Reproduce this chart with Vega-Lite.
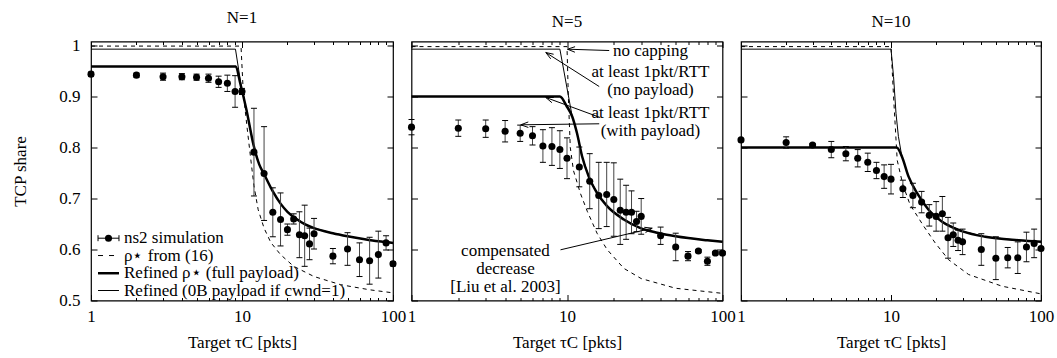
{
  "$schema": "https://vega.github.io/schema/vega-lite/v6.json",
  "padding": {"left": 10, "top": 7.5, "right": 10, "bottom": 5},
  "bounds": "flush",
  "spacing": 18.5,
  "config": {
    "font": "'Liberation Serif', 'Times New Roman', 'DejaVu Serif', serif",
    "view": {"stroke": "black", "strokeWidth": 1.2},
    "axis": {"domain": false, "grid": false, "labelFont": "'Liberation Serif', 'Times New Roman', 'DejaVu Serif', serif", "labelFontSize": 17, "labelColor": "black", "titleFont": "'Liberation Serif', 'Times New Roman', 'DejaVu Serif', serif", "titleFontSize": 17, "titleFontWeight": "normal", "titleColor": "black", "tickColor": "black", "tickWidth": 1},
    "title": {"font": "'Liberation Serif', 'Times New Roman', 'DejaVu Serif', serif", "fontSize": 17, "fontWeight": "normal", "color": "black", "offset": 10, "baseline": "bottom"},
    "text": {"font": "'Liberation Serif', 'Times New Roman', 'DejaVu Serif', serif", "fontSize": 17, "color": "black"}
  },
  "datasets": {
    "sim": [
      {"N":1,"x":1,"y":0.944,"lo":0.940,"hi":0.948},{"N":1,"x":2,"y":0.942,"lo":0.938,"hi":0.946},{"N":1,"x":3,"y":0.939,"lo":0.932,"hi":0.946},{"N":1,"x":4,"y":0.939,"lo":0.933,"hi":0.945},{"N":1,"x":5,"y":0.938,"lo":0.932,"hi":0.944},{"N":1,"x":6,"y":0.936,"lo":0.928,"hi":0.944},{"N":1,"x":7,"y":0.929,"lo":0.918,"hi":0.940},{"N":1,"x":8,"y":0.926,"lo":0.910,"hi":0.942},{"N":1,"x":9,"y":0.910,"lo":0.879,"hi":0.941},{"N":1,"x":10,"y":0.910,"lo":0.904,"hi":0.916},{"N":1,"x":12,"y":0.791,"lo":0.705,"hi":0.877},{"N":1,"x":14,"y":0.749,"lo":0.657,"hi":0.841},{"N":1,"x":16,"y":0.673,"lo":0.625,"hi":0.721},{"N":1,"x":18,"y":0.659,"lo":0.607,"hi":0.711},{"N":1,"x":20,"y":0.639,"lo":0.628,"hi":0.650},{"N":1,"x":22,"y":0.660,"lo":0.650,"hi":0.670},{"N":1,"x":24,"y":0.629,"lo":0.584,"hi":0.674},{"N":1,"x":26,"y":0.627,"lo":0.567,"hi":0.687},{"N":1,"x":28,"y":0.611,"lo":0.580,"hi":0.642},{"N":1,"x":30,"y":0.631,"lo":0.601,"hi":0.661},{"N":1,"x":40,"y":0.587,"lo":0.572,"hi":0.602},{"N":1,"x":50,"y":0.601,"lo":0.569,"hi":0.633},{"N":1,"x":60,"y":0.580,"lo":0.547,"hi":0.613},{"N":1,"x":70,"y":0.578,"lo":0.532,"hi":0.624},{"N":1,"x":80,"y":0.590,"lo":0.544,"hi":0.636},{"N":1,"x":90,"y":0.613,"lo":0.599,"hi":0.627},{"N":1,"x":100,"y":0.572,"lo":0.568,"hi":0.576},
      {"N":5,"x":1,"y":0.840,"lo":0.825,"hi":0.855},{"N":5,"x":2,"y":0.838,"lo":0.822,"hi":0.854},{"N":5,"x":3,"y":0.837,"lo":0.820,"hi":0.854},{"N":5,"x":4,"y":0.832,"lo":0.811,"hi":0.853},{"N":5,"x":5,"y":0.828,"lo":0.812,"hi":0.844},{"N":5,"x":6,"y":0.823,"lo":0.805,"hi":0.841},{"N":5,"x":7,"y":0.803,"lo":0.771,"hi":0.835},{"N":5,"x":8,"y":0.802,"lo":0.765,"hi":0.839},{"N":5,"x":9,"y":0.796,"lo":0.759,"hi":0.833},{"N":5,"x":10,"y":0.779,"lo":0.739,"hi":0.819},{"N":5,"x":12,"y":0.762,"lo":0.723,"hi":0.801},{"N":5,"x":14,"y":0.734,"lo":0.680,"hi":0.788},{"N":5,"x":16,"y":0.706,"lo":0.641,"hi":0.771},{"N":5,"x":18,"y":0.708,"lo":0.645,"hi":0.771},{"N":5,"x":20,"y":0.698,"lo":0.626,"hi":0.770},{"N":5,"x":22,"y":0.677,"lo":0.610,"hi":0.738},{"N":5,"x":24,"y":0.673,"lo":0.620,"hi":0.726},{"N":5,"x":26,"y":0.673,"lo":0.631,"hi":0.715},{"N":5,"x":28,"y":0.655,"lo":0.635,"hi":0.675},{"N":5,"x":30,"y":0.665,"lo":0.630,"hi":0.700},{"N":5,"x":40,"y":0.627,"lo":0.610,"hi":0.644},{"N":5,"x":50,"y":0.605,"lo":0.578,"hi":0.632},{"N":5,"x":60,"y":0.587,"lo":0.578,"hi":0.596},{"N":5,"x":70,"y":0.597,"lo":0.594,"hi":0.600},{"N":5,"x":80,"y":0.577,"lo":0.569,"hi":0.585},{"N":5,"x":90,"y":0.593,"lo":0.590,"hi":0.596},{"N":5,"x":100,"y":0.593,"lo":0.590,"hi":0.596},
      {"N":10,"x":1,"y":0.815,"lo":0.812,"hi":0.818},{"N":10,"x":2,"y":0.810,"lo":0.799,"hi":0.821},{"N":10,"x":3,"y":0.805,"lo":0.802,"hi":0.808},{"N":10,"x":4,"y":0.796,"lo":0.780,"hi":0.812},{"N":10,"x":5,"y":0.788,"lo":0.774,"hi":0.802},{"N":10,"x":6,"y":0.779,"lo":0.762,"hi":0.796},{"N":10,"x":7,"y":0.771,"lo":0.753,"hi":0.789},{"N":10,"x":8,"y":0.755,"lo":0.739,"hi":0.771},{"N":10,"x":9,"y":0.743,"lo":0.720,"hi":0.766},{"N":10,"x":10,"y":0.738,"lo":0.709,"hi":0.767},{"N":10,"x":12,"y":0.719,"lo":0.702,"hi":0.736},{"N":10,"x":14,"y":0.706,"lo":0.682,"hi":0.730},{"N":10,"x":16,"y":0.693,"lo":0.672,"hi":0.714},{"N":10,"x":18,"y":0.667,"lo":0.646,"hi":0.688},{"N":10,"x":20,"y":0.665,"lo":0.636,"hi":0.694},{"N":10,"x":22,"y":0.670,"lo":0.636,"hi":0.704},{"N":10,"x":24,"y":0.623,"lo":0.583,"hi":0.663},{"N":10,"x":26,"y":0.629,"lo":0.606,"hi":0.652},{"N":10,"x":28,"y":0.618,"lo":0.598,"hi":0.638},{"N":10,"x":30,"y":0.615,"lo":0.590,"hi":0.640},{"N":10,"x":40,"y":0.600,"lo":0.569,"hi":0.631},{"N":10,"x":50,"y":0.583,"lo":0.541,"hi":0.625},{"N":10,"x":60,"y":0.584,"lo":0.564,"hi":0.604},{"N":10,"x":70,"y":0.584,"lo":0.553,"hi":0.615},{"N":10,"x":80,"y":0.605,"lo":0.576,"hi":0.634},{"N":10,"x":90,"y":0.612,"lo":0.584,"hi":0.640},{"N":10,"x":100,"y":0.602,"lo":0.599,"hi":0.605}
    ],
    "curves": [
      {"N":1,"s":"rho","x":1,"y":0.999},{"N":1,"s":"rho","x":9.85,"y":0.999},{"N":1,"s":"rho","x":10.2,"y":0.907},{"N":1,"s":"rho","x":10.8,"y":0.84},{"N":1,"s":"rho","x":11.4,"y":0.78},{"N":1,"s":"rho","x":12,"y":0.725},{"N":1,"s":"rho","x":12.8,"y":0.678},{"N":1,"s":"rho","x":14,"y":0.642},{"N":1,"s":"rho","x":15.5,"y":0.614},{"N":1,"s":"rho","x":18,"y":0.59},{"N":1,"s":"rho","x":22,"y":0.567},{"N":1,"s":"rho","x":30,"y":0.547},{"N":1,"s":"rho","x":45,"y":0.531},{"N":1,"s":"rho","x":70,"y":0.521},{"N":1,"s":"rho","x":100,"y":0.515},
      {"N":1,"s":"full","x":1,"y":0.959},{"N":1,"s":"full","x":9.1,"y":0.959},{"N":1,"s":"full","x":9.7,"y":0.928},{"N":1,"s":"full","x":10.7,"y":0.874},{"N":1,"s":"full","x":11.9,"y":0.806},{"N":1,"s":"full","x":13,"y":0.767},{"N":1,"s":"full","x":14,"y":0.748},{"N":1,"s":"full","x":16,"y":0.714},{"N":1,"s":"full","x":18,"y":0.69},{"N":1,"s":"full","x":20,"y":0.674},{"N":1,"s":"full","x":22.7,"y":0.661},{"N":1,"s":"full","x":26,"y":0.65},{"N":1,"s":"full","x":30,"y":0.642},{"N":1,"s":"full","x":40,"y":0.632},{"N":1,"s":"full","x":50,"y":0.626},{"N":1,"s":"full","x":65,"y":0.62},{"N":1,"s":"full","x":80,"y":0.616},{"N":1,"s":"full","x":100,"y":0.613},
      {"N":1,"s":"zero","x":1,"y":0.993},{"N":1,"s":"zero","x":9.05,"y":0.993},{"N":1,"s":"zero","x":9.95,"y":0.915},{"N":1,"s":"zero","x":10.7,"y":0.874},{"N":1,"s":"zero","x":11.9,"y":0.806},{"N":1,"s":"zero","x":13,"y":0.767},{"N":1,"s":"zero","x":14,"y":0.748},{"N":1,"s":"zero","x":16,"y":0.714},{"N":1,"s":"zero","x":18,"y":0.69},{"N":1,"s":"zero","x":20,"y":0.674},{"N":1,"s":"zero","x":22.7,"y":0.661},{"N":1,"s":"zero","x":26,"y":0.65},{"N":1,"s":"zero","x":30,"y":0.642},{"N":1,"s":"zero","x":40,"y":0.632},{"N":1,"s":"zero","x":50,"y":0.626},{"N":1,"s":"zero","x":65,"y":0.62},{"N":1,"s":"zero","x":80,"y":0.616},{"N":1,"s":"zero","x":100,"y":0.613},
      {"N":5,"s":"rho","x":1,"y":0.998},{"N":5,"s":"rho","x":10,"y":0.998},{"N":5,"s":"rho","x":10.2,"y":0.9},{"N":5,"s":"rho","x":10.5,"y":0.80},{"N":5,"s":"rho","x":11,"y":0.755},{"N":5,"s":"rho","x":12.2,"y":0.71},{"N":5,"s":"rho","x":13.5,"y":0.675},{"N":5,"s":"rho","x":15.6,"y":0.632},{"N":5,"s":"rho","x":18.1,"y":0.600},{"N":5,"s":"rho","x":23.2,"y":0.563},{"N":5,"s":"rho","x":30,"y":0.543},{"N":5,"s":"rho","x":50,"y":0.524},{"N":5,"s":"rho","x":100,"y":0.514},
      {"N":5,"s":"full","x":1,"y":0.900},{"N":5,"s":"full","x":9,"y":0.900},{"N":5,"s":"full","x":10,"y":0.880},{"N":5,"s":"full","x":10.8,"y":0.861},{"N":5,"s":"full","x":11.6,"y":0.828},{"N":5,"s":"full","x":12.5,"y":0.783},{"N":5,"s":"full","x":13.8,"y":0.743},{"N":5,"s":"full","x":15.6,"y":0.711},{"N":5,"s":"full","x":18.1,"y":0.685},{"N":5,"s":"full","x":23.2,"y":0.659},{"N":5,"s":"full","x":29.7,"y":0.642},{"N":5,"s":"full","x":38,"y":0.633},{"N":5,"s":"full","x":50,"y":0.626},{"N":5,"s":"full","x":80,"y":0.618},{"N":5,"s":"full","x":100,"y":0.615},
      {"N":5,"s":"zero","x":1,"y":0.993},{"N":5,"s":"zero","x":9,"y":0.993},{"N":5,"s":"zero","x":10.8,"y":0.861},{"N":5,"s":"zero","x":11.6,"y":0.828},{"N":5,"s":"zero","x":12.5,"y":0.783},{"N":5,"s":"zero","x":13.8,"y":0.743},{"N":5,"s":"zero","x":15.6,"y":0.711},{"N":5,"s":"zero","x":18.1,"y":0.685},{"N":5,"s":"zero","x":23.2,"y":0.659},{"N":5,"s":"zero","x":29.7,"y":0.642},{"N":5,"s":"zero","x":38,"y":0.633},{"N":5,"s":"zero","x":50,"y":0.626},{"N":5,"s":"zero","x":80,"y":0.618},{"N":5,"s":"zero","x":100,"y":0.615},
      {"N":10,"s":"rho","x":1,"y":0.998},{"N":10,"s":"rho","x":10,"y":0.998},{"N":10,"s":"rho","x":10.4,"y":0.9},{"N":10,"s":"rho","x":11,"y":0.775},{"N":10,"s":"rho","x":12,"y":0.727},{"N":10,"s":"rho","x":13.4,"y":0.688},{"N":10,"s":"rho","x":16.5,"y":0.646},{"N":10,"s":"rho","x":19.7,"y":0.613},{"N":10,"s":"rho","x":24.2,"y":0.58},{"N":10,"s":"rho","x":32.9,"y":0.551},{"N":10,"s":"rho","x":55,"y":0.528},{"N":10,"s":"rho","x":100,"y":0.513},
      {"N":10,"s":"full","x":1,"y":0.800},{"N":10,"s":"full","x":10.9,"y":0.800},{"N":10,"s":"full","x":11.8,"y":0.783},{"N":10,"s":"full","x":13.1,"y":0.743},{"N":10,"s":"full","x":14.9,"y":0.711},{"N":10,"s":"full","x":17.8,"y":0.678},{"N":10,"s":"full","x":21.8,"y":0.655},{"N":10,"s":"full","x":29.7,"y":0.636},{"N":10,"s":"full","x":42.5,"y":0.625},{"N":10,"s":"full","x":71,"y":0.618},{"N":10,"s":"full","x":100,"y":0.615},
      {"N":10,"s":"zero","x":1,"y":0.993},{"N":10,"s":"zero","x":10,"y":0.993},{"N":10,"s":"zero","x":10.4,"y":0.939},{"N":10,"s":"zero","x":10.8,"y":0.867},{"N":10,"s":"zero","x":11.2,"y":0.822},{"N":10,"s":"zero","x":11.8,"y":0.783},{"N":10,"s":"zero","x":13.1,"y":0.743},{"N":10,"s":"zero","x":14.9,"y":0.711},{"N":10,"s":"zero","x":17.8,"y":0.678},{"N":10,"s":"zero","x":21.8,"y":0.655},{"N":10,"s":"zero","x":29.7,"y":0.636},{"N":10,"s":"zero","x":42.5,"y":0.625},{"N":10,"s":"zero","x":71,"y":0.618},{"N":10,"s":"zero","x":100,"y":0.615}
    ],
    "legend": [
      {"k":"sim","x1":1.113,"x2":1.532,"xm":1.306,"xt":1.654,"y":0.6222,"t":"ns2 simulation"},
      {"k":"rho","x1":1.113,"x2":1.532,"xm":1.306,"xt":1.654,"y":0.5882,"t":"ρ⋆ from (16)"},
      {"k":"full","x1":1.113,"x2":1.532,"xm":1.306,"xt":1.654,"y":0.5535,"t":"Refined ρ⋆ (full payload)"},
      {"k":"zero","x1":1.113,"x2":1.532,"xm":1.306,"xt":1.654,"y":0.5196,"t":"Refined (0B payload if cwnd=1)"}
    ],
    "notes": [
      {"x":34.4,"y":0.990,"t":"no capping"},
      {"x":34.4,"y":0.949,"t":"at least 1pkt/RTT"},
      {"x":34.4,"y":0.913,"t":"(no payload)"},
      {"x":34.4,"y":0.867,"t":"at least 1pkt/RTT"},
      {"x":34.4,"y":0.833,"t":"(with payload)"},
      {"x":4.02,"y":0.597,"t":"compensated"},
      {"x":4.02,"y":0.562,"t":"decrease"},
      {"x":4.02,"y":0.527,"t":"[Liu et al. 2003]"}
    ],
    "arrows": [
      {"x":18.68,"y":0.9903,"x2":10.07,"y2":0.9929},{"x":10.07,"y":0.9929,"x2":11.24,"y2":0.9870},{"x":10.07,"y":0.9929,"x2":11.27,"y2":0.9978},
      {"x":16.11,"y":0.9197,"x2":7.305,"y2":0.9864},{"x":7.305,"y":0.9864,"x2":7.858,"y2":0.9740},{"x":7.305,"y":0.9864,"x2":8.202,"y2":0.9830},
      {"x":16.35,"y":0.8589,"x2":7.305,"y2":0.8982},{"x":7.305,"y":0.8982,"x2":7.996,"y2":0.8880},{"x":7.305,"y":0.8982,"x2":8.227,"y2":0.8982},
      {"x":16.11,"y":0.8466,"x2":5.045,"y2":0.8446},{"x":5.045,"y":0.8446,"x2":5.641,"y2":0.8394},{"x":5.045,"y":0.8446,"x2":5.636,"y2":0.8502},
      {"x":9.082,"y":0.5994,"x2":35.31,"y2":0.6418},{"x":35.31,"y":0.6418,"x2":31.40,"y2":0.6436},{"x":35.31,"y":0.6418,"x2":31.98,"y2":0.6332}
    ]
  },
  "hconcat": [
    {
      "width": 302, "height": 259,
      "title": {"text": "N=1"},
      "layer": [
        {
          "layer": [
            {"data": {"name": "curves"}, "transform": [{"filter": "datum.N == 1 && datum.s == 'zero'"}],
             "mark": {"type": "line", "stroke": "black", "strokeWidth": 1},
             "encoding": {
               "x": {"field": "x", "type": "quantitative", "scale": {"type": "log", "domain": [1, 100], "nice": false},
                 "axis": {"orient": "bottom", "values": [1,2,3,4,5,6,7,8,9,10,20,30,40,50,60,70,80,90,100], "tickSize": {"condition": {"test": "datum.value == 1 || datum.value == 10 || datum.value == 100", "value": -6}, "value": -3}, "labelExpr": "datum.value == 1 || datum.value == 10 || datum.value == 100 ? '' + datum.value : ''", "labelOverlap": false, "labelFlush": false, "labelPadding": 14, "title": "Target τC [pkts]", "titleY": 41.5, "titleBaseline": "middle"}},
               "y": {"field": "y", "type": "quantitative", "scale": {"domain": [0.5, 1.008], "nice": false, "zero": false},
                 "axis": {"orient": "left", "values": [0.5,0.6,0.7,0.8,0.9,1], "tickSize": -6, "labelPadding": 17, "labelExpr": "datum.value == 1 ? '1' : format(datum.value, '.1f')", "title": "TCP share", "titleX": -71, "titleY": 129.5, "titleBaseline": "middle"}}
             }},
            {"data": {"name": "curves"}, "transform": [{"filter": "datum.N == 1 && datum.s == 'rho'"}],
             "mark": {"type": "line", "stroke": "black", "strokeWidth": 1, "strokeDash": [4, 4]},
             "encoding": {"x": {"field": "x", "type": "quantitative"}, "y": {"field": "y", "type": "quantitative"}}},
            {"data": {"name": "curves"}, "transform": [{"filter": "datum.N == 1 && datum.s == 'full'"}],
             "mark": {"type": "line", "stroke": "black", "strokeWidth": 2.5, "interpolate": "monotone"},
             "encoding": {"x": {"field": "x", "type": "quantitative"}, "y": {"field": "y", "type": "quantitative"}}},
            {"data": {"name": "sim"}, "transform": [{"filter": "datum.N == 1"}],
             "mark": {"type": "rule", "stroke": "#444444", "strokeWidth": 1},
             "encoding": {"x": {"field": "x", "type": "quantitative"}, "y": {"field": "lo", "type": "quantitative"}, "y2": {"field": "hi"}}},
            {"data": {"name": "sim"}, "transform": [{"filter": "datum.N == 1"}],
             "mark": {"type": "rule", "stroke": "black", "strokeWidth": 1, "xOffset": -3, "x2Offset": 3},
             "encoding": {"x": {"field": "x", "type": "quantitative"}, "x2": {"field": "x"}, "y": {"field": "lo", "type": "quantitative"}}},
            {"data": {"name": "sim"}, "transform": [{"filter": "datum.N == 1"}],
             "mark": {"type": "rule", "stroke": "black", "strokeWidth": 1, "xOffset": -3, "x2Offset": 3},
             "encoding": {"x": {"field": "x", "type": "quantitative"}, "x2": {"field": "x"}, "y": {"field": "hi", "type": "quantitative"}}},
            {"data": {"name": "sim"}, "transform": [{"filter": "datum.N == 1"}],
             "mark": {"type": "point", "filled": true, "fill": "black", "size": 50, "opacity": 1},
             "encoding": {"x": {"field": "x", "type": "quantitative"}, "y": {"field": "y", "type": "quantitative"}}},
            {"data": {"name": "legend"}, "transform": [{"filter": "datum.k == 'sim' || datum.k == 'zero'"}],
             "mark": {"type": "rule", "stroke": "black", "strokeWidth": 1},
             "encoding": {"x": {"field": "x1", "type": "quantitative"}, "x2": {"field": "x2"}, "y": {"field": "y", "type": "quantitative"}}},
            {"data": {"name": "legend"}, "transform": [{"filter": "datum.k == 'rho'"}],
             "mark": {"type": "rule", "stroke": "black", "strokeWidth": 1, "strokeDash": [5, 6]},
             "encoding": {"x": {"field": "x1", "type": "quantitative"}, "x2": {"field": "x2"}, "y": {"field": "y", "type": "quantitative"}}},
            {"data": {"name": "legend"}, "transform": [{"filter": "datum.k == 'full'"}],
             "mark": {"type": "rule", "stroke": "black", "strokeWidth": 2.5},
             "encoding": {"x": {"field": "x1", "type": "quantitative"}, "x2": {"field": "x2"}, "y": {"field": "y", "type": "quantitative"}}},
            {"data": {"name": "legend"}, "transform": [{"filter": "datum.k == 'sim'"}],
             "mark": {"type": "rule", "stroke": "black", "strokeWidth": 1, "yOffset": -3, "y2Offset": 3},
             "encoding": {"x": {"field": "x1", "type": "quantitative"}, "y": {"field": "y", "type": "quantitative"}, "y2": {"field": "y"}}},
            {"data": {"name": "legend"}, "transform": [{"filter": "datum.k == 'sim'"}],
             "mark": {"type": "rule", "stroke": "black", "strokeWidth": 1, "yOffset": -3, "y2Offset": 3},
             "encoding": {"x": {"field": "x2", "type": "quantitative"}, "y": {"field": "y", "type": "quantitative"}, "y2": {"field": "y"}}},
            {"data": {"name": "legend"}, "transform": [{"filter": "datum.k == 'sim'"}],
             "mark": {"type": "point", "filled": true, "fill": "black", "size": 50, "opacity": 1},
             "encoding": {"x": {"field": "xm", "type": "quantitative"}, "y": {"field": "y", "type": "quantitative"}}},
            {"data": {"name": "legend"},
             "mark": {"type": "text", "align": "left", "baseline": "middle"},
             "encoding": {"x": {"field": "xt", "type": "quantitative"}, "y": {"field": "y", "type": "quantitative"}, "text": {"field": "t"}}}
          ]
        },
        {"data": {"name": "curves"}, "transform": [{"filter": "datum.N == 1"}],
         "mark": {"type": "point", "opacity": 0},
         "encoding": {
           "x": {"field": "x", "type": "quantitative", "scale": {"type": "log", "domain": [1, 100], "nice": false},
             "axis": {"orient": "top", "values": [1,2,3,4,5,6,7,8,9,10,20,30,40,50,60,70,80,90,100], "tickSize": {"condition": {"test": "datum.value == 1 || datum.value == 10 || datum.value == 100", "value": -6}, "value": -3}, "labels": false, "title": null}},
           "y": {"field": "y", "type": "quantitative", "scale": {"domain": [0.5, 1.008], "nice": false, "zero": false},
             "axis": {"orient": "right", "values": [0.5,0.6,0.7,0.8,0.9,1], "tickSize": -6, "labels": false, "title": null}}
         }}
      ],
      "resolve": {"axis": {"x": "independent", "y": "independent"}}
    },
    {
      "width": 311, "height": 259,
      "title": {"text": "N=5"},
      "layer": [
        {
          "layer": [
            {"data": {"name": "curves"}, "transform": [{"filter": "datum.N == 5 && datum.s == 'zero'"}],
             "mark": {"type": "line", "stroke": "black", "strokeWidth": 1},
             "encoding": {
               "x": {"field": "x", "type": "quantitative", "scale": {"type": "log", "domain": [1, 100], "nice": false},
                 "axis": {"orient": "bottom", "values": [1,2,3,4,5,6,7,8,9,10,20,30,40,50,60,70,80,90,100], "tickSize": {"condition": {"test": "datum.value == 1 || datum.value == 10 || datum.value == 100", "value": -6}, "value": -3}, "labelExpr": "datum.value == 1 || datum.value == 10 || datum.value == 100 ? '' + datum.value : ''", "labelOverlap": false, "labelFlush": false, "labelPadding": 14, "title": "Target τC [pkts]", "titleY": 41.5, "titleBaseline": "middle"}},
               "y": {"field": "y", "type": "quantitative", "scale": {"domain": [0.5, 1.008], "nice": false, "zero": false},
                 "axis": {"orient": "left", "values": [0.5,0.6,0.7,0.8,0.9,1], "tickSize": -6, "labels": false, "title": null}}
             }},
            {"data": {"name": "curves"}, "transform": [{"filter": "datum.N == 5 && datum.s == 'rho'"}],
             "mark": {"type": "line", "stroke": "black", "strokeWidth": 1, "strokeDash": [4, 4]},
             "encoding": {"x": {"field": "x", "type": "quantitative"}, "y": {"field": "y", "type": "quantitative"}}},
            {"data": {"name": "curves"}, "transform": [{"filter": "datum.N == 5 && datum.s == 'full'"}],
             "mark": {"type": "line", "stroke": "black", "strokeWidth": 2.5, "interpolate": "monotone"},
             "encoding": {"x": {"field": "x", "type": "quantitative"}, "y": {"field": "y", "type": "quantitative"}}},
            {"data": {"name": "sim"}, "transform": [{"filter": "datum.N == 5"}],
             "mark": {"type": "rule", "stroke": "#444444", "strokeWidth": 1},
             "encoding": {"x": {"field": "x", "type": "quantitative"}, "y": {"field": "lo", "type": "quantitative"}, "y2": {"field": "hi"}}},
            {"data": {"name": "sim"}, "transform": [{"filter": "datum.N == 5"}],
             "mark": {"type": "rule", "stroke": "black", "strokeWidth": 1, "xOffset": -3, "x2Offset": 3},
             "encoding": {"x": {"field": "x", "type": "quantitative"}, "x2": {"field": "x"}, "y": {"field": "lo", "type": "quantitative"}}},
            {"data": {"name": "sim"}, "transform": [{"filter": "datum.N == 5"}],
             "mark": {"type": "rule", "stroke": "black", "strokeWidth": 1, "xOffset": -3, "x2Offset": 3},
             "encoding": {"x": {"field": "x", "type": "quantitative"}, "x2": {"field": "x"}, "y": {"field": "hi", "type": "quantitative"}}},
            {"data": {"name": "sim"}, "transform": [{"filter": "datum.N == 5"}],
             "mark": {"type": "point", "filled": true, "fill": "black", "size": 50, "opacity": 1},
             "encoding": {"x": {"field": "x", "type": "quantitative"}, "y": {"field": "y", "type": "quantitative"}}},
            {"data": {"name": "arrows"},
             "mark": {"type": "rule", "stroke": "black", "strokeWidth": 1},
             "encoding": {"x": {"field": "x", "type": "quantitative"}, "y": {"field": "y", "type": "quantitative"}, "x2": {"field": "x2"}, "y2": {"field": "y2"}}},
            {"data": {"name": "notes"},
             "mark": {"type": "text", "align": "center", "baseline": "middle"},
             "encoding": {"x": {"field": "x", "type": "quantitative"}, "y": {"field": "y", "type": "quantitative"}, "text": {"field": "t"}}}
          ]
        },
        {"data": {"name": "curves"}, "transform": [{"filter": "datum.N == 5"}],
         "mark": {"type": "point", "opacity": 0},
         "encoding": {
           "x": {"field": "x", "type": "quantitative", "scale": {"type": "log", "domain": [1, 100], "nice": false},
             "axis": {"orient": "top", "values": [1,2,3,4,5,6,7,8,9,10,20,30,40,50,60,70,80,90,100], "tickSize": {"condition": {"test": "datum.value == 1 || datum.value == 10 || datum.value == 100", "value": -6}, "value": -3}, "labels": false, "title": null}},
           "y": {"field": "y", "type": "quantitative", "scale": {"domain": [0.5, 1.008], "nice": false, "zero": false},
             "axis": {"orient": "right", "values": [0.5,0.6,0.7,0.8,0.9,1], "tickSize": -6, "labels": false, "title": null}}
         }}
      ],
      "resolve": {"axis": {"x": "independent", "y": "independent"}}
    },
    {
      "width": 300, "height": 259,
      "title": {"text": "N=10"},
      "layer": [
        {
          "layer": [
            {"data": {"name": "curves"}, "transform": [{"filter": "datum.N == 10 && datum.s == 'zero'"}],
             "mark": {"type": "line", "stroke": "black", "strokeWidth": 1},
             "encoding": {
               "x": {"field": "x", "type": "quantitative", "scale": {"type": "log", "domain": [1, 100], "nice": false},
                 "axis": {"orient": "bottom", "values": [1,2,3,4,5,6,7,8,9,10,20,30,40,50,60,70,80,90,100], "tickSize": {"condition": {"test": "datum.value == 1 || datum.value == 10 || datum.value == 100", "value": -6}, "value": -3}, "labelExpr": "datum.value == 1 || datum.value == 10 || datum.value == 100 ? '' + datum.value : ''", "labelOverlap": false, "labelFlush": false, "labelPadding": 14, "title": "Target τC [pkts]", "titleY": 41.5, "titleBaseline": "middle"}},
               "y": {"field": "y", "type": "quantitative", "scale": {"domain": [0.5, 1.008], "nice": false, "zero": false},
                 "axis": {"orient": "left", "values": [0.5,0.6,0.7,0.8,0.9,1], "tickSize": -6, "labels": false, "title": null}}
             }},
            {"data": {"name": "curves"}, "transform": [{"filter": "datum.N == 10 && datum.s == 'rho'"}],
             "mark": {"type": "line", "stroke": "black", "strokeWidth": 1, "strokeDash": [4, 4]},
             "encoding": {"x": {"field": "x", "type": "quantitative"}, "y": {"field": "y", "type": "quantitative"}}},
            {"data": {"name": "curves"}, "transform": [{"filter": "datum.N == 10 && datum.s == 'full'"}],
             "mark": {"type": "line", "stroke": "black", "strokeWidth": 2.5, "interpolate": "monotone"},
             "encoding": {"x": {"field": "x", "type": "quantitative"}, "y": {"field": "y", "type": "quantitative"}}},
            {"data": {"name": "sim"}, "transform": [{"filter": "datum.N == 10"}],
             "mark": {"type": "rule", "stroke": "#444444", "strokeWidth": 1},
             "encoding": {"x": {"field": "x", "type": "quantitative"}, "y": {"field": "lo", "type": "quantitative"}, "y2": {"field": "hi"}}},
            {"data": {"name": "sim"}, "transform": [{"filter": "datum.N == 10"}],
             "mark": {"type": "rule", "stroke": "black", "strokeWidth": 1, "xOffset": -3, "x2Offset": 3},
             "encoding": {"x": {"field": "x", "type": "quantitative"}, "x2": {"field": "x"}, "y": {"field": "lo", "type": "quantitative"}}},
            {"data": {"name": "sim"}, "transform": [{"filter": "datum.N == 10"}],
             "mark": {"type": "rule", "stroke": "black", "strokeWidth": 1, "xOffset": -3, "x2Offset": 3},
             "encoding": {"x": {"field": "x", "type": "quantitative"}, "x2": {"field": "x"}, "y": {"field": "hi", "type": "quantitative"}}},
            {"data": {"name": "sim"}, "transform": [{"filter": "datum.N == 10"}],
             "mark": {"type": "point", "filled": true, "fill": "black", "size": 50, "opacity": 1},
             "encoding": {"x": {"field": "x", "type": "quantitative"}, "y": {"field": "y", "type": "quantitative"}}}
          ]
        },
        {"data": {"name": "curves"}, "transform": [{"filter": "datum.N == 10"}],
         "mark": {"type": "point", "opacity": 0},
         "encoding": {
           "x": {"field": "x", "type": "quantitative", "scale": {"type": "log", "domain": [1, 100], "nice": false},
             "axis": {"orient": "top", "values": [1,2,3,4,5,6,7,8,9,10,20,30,40,50,60,70,80,90,100], "tickSize": {"condition": {"test": "datum.value == 1 || datum.value == 10 || datum.value == 100", "value": -6}, "value": -3}, "labels": false, "title": null}},
           "y": {"field": "y", "type": "quantitative", "scale": {"domain": [0.5, 1.008], "nice": false, "zero": false},
             "axis": {"orient": "right", "values": [0.5,0.6,0.7,0.8,0.9,1], "tickSize": -6, "labels": false, "title": null}}
         }}
      ],
      "resolve": {"axis": {"x": "independent", "y": "independent"}}
    }
  ]
}
